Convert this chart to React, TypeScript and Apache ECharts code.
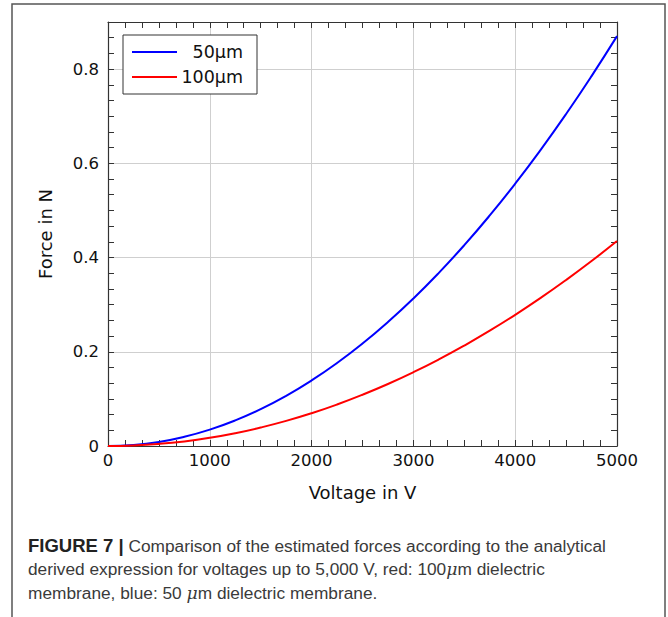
import React, { useEffect, useRef } from "react";
import * as echarts from "echarts";

const voltages = [0, 250, 500, 750, 1000, 1250, 1500, 1750, 2000, 2250, 2500, 2750, 3000, 3250, 3500, 3750, 4000, 4250, 4500, 4750, 5000];
const force50 = [0, 0.0022, 0.0087, 0.0196, 0.0348, 0.0544, 0.0783, 0.1066, 0.1392, 0.1762, 0.2175, 0.2632, 0.3132, 0.3676, 0.4263, 0.4894, 0.5568, 0.6286, 0.7047, 0.7852, 0.87];
const force100 = [0, 0.0011, 0.0044, 0.0098, 0.0174, 0.0272, 0.0392, 0.0533, 0.0696, 0.0881, 0.1088, 0.1316, 0.1566, 0.1838, 0.2132, 0.2447, 0.2784, 0.3143, 0.3524, 0.3926, 0.435];
const seriesNames = ["50μm", "100μm"];
const captionLines = [
  "{b|FIGURE 7 |} Comparison of the estimated forces according to the analytical",
  "derived expression for voltages up to 5,000 V, red: 100{i|μ}m dielectric",
  "membrane, blue: 50 {i|μ}m dielectric membrane.",
];

const FONT = "DejaVu Sans";
const AXIS = "#333";
const CAP = 17.3;

export default function App() {
  const ref = useRef<HTMLDivElement>(null);
  useEffect(() => {
    if (!ref.current) return;
    const chart = echarts.init(ref.current, null, { renderer: "svg" });
    const line = { show: true, onZero: false, lineStyle: { color: AXIS, width: 1.2 } };
    const tickCommon = { show: true, inside: true, length: 6, lineStyle: { color: AXIS } };
    const minorCommon = { show: true, length: 6, lineStyle: { color: AXIS, width: 1 } };
    chart.setOption({
      animation: false,
      backgroundColor: "#fff",
      grid: { left: 108, top: 22, right: 51, bottom: 171, containLabel: false },
      legend: {
        left: 123,
        top: 35,
        orient: "vertical",
        padding: [8, 14, 8, 9],
        itemGap: 7,
        itemWidth: 45,
        itemHeight: 2,
        icon: "rect",
        borderColor: "#333",
        borderWidth: 1,
        backgroundColor: "#fff",
        data: seriesNames,
        formatter: (name: string) => "{t|" + name + "}",
        textStyle: {
          rich: { t: { width: 61, align: "right", fontSize: 17.5, fontFamily: FONT, color: "#111", height: 20 } },
        },
      },
      xAxis: [
        {
          type: "value",
          min: 0,
          max: 5000,
          interval: 1000,
          position: "bottom",
          name: "Voltage in V",
          nameLocation: "middle",
          nameGap: 37,
          nameTextStyle: { fontSize: 18, fontFamily: FONT, color: "#111" },
          axisLine: line,
          axisTick: tickCommon,
          minorTick: { ...minorCommon, splitNumber: 6 },
          axisLabel: { fontSize: 16.5, fontFamily: FONT, color: "#111", margin: 6, formatter: (v: number) => String(v) },
          splitLine: { show: true, lineStyle: { color: "#cfcfcf", width: 1 } },
        },
        {
          type: "value",
          min: 0,
          max: 5000,
          interval: 1000,
          position: "top",
          axisLine: line,
          axisTick: tickCommon,
          minorTick: { ...minorCommon, splitNumber: 6 },
          axisLabel: { show: false },
          splitLine: { show: false },
        },
      ],
      yAxis: [
        {
          type: "value",
          min: 0,
          max: 0.9,
          interval: 0.1,
          position: "left",
          name: "Force in N",
          nameLocation: "middle",
          nameGap: 54,
          nameTextStyle: { fontSize: 18, fontFamily: FONT, color: "#111" },
          axisLine: line,
          axisTick: tickCommon,
          minorTick: { ...minorCommon, splitNumber: 3 },
          axisLabel: {
            fontSize: 16.5,
            fontFamily: FONT,
            color: "#111",
            margin: 9,
            formatter: (v: number) => {
              const k = Math.round(v * 10);
              if (k % 2 !== 0) return "";
              return k === 0 ? "0" : (k / 10).toFixed(1);
            },
          },
          splitLine: { show: false },
        },
        {
          type: "value",
          min: 0,
          max: 0.9,
          interval: 0.1,
          position: "right",
          axisLine: line,
          axisTick: tickCommon,
          minorTick: { ...minorCommon, splitNumber: 3 },
          axisLabel: { show: false },
          splitLine: { show: false },
        },
        {
          type: "value",
          min: 0,
          max: 0.9,
          interval: 0.2,
          position: "left",
          axisLine: { show: false, onZero: false },
          axisTick: { show: false },
          axisLabel: { show: false },
          splitLine: { show: true, lineStyle: { color: "#cfcfcf", width: 1 } },
        },
      ],
      series: [
        {
          name: seriesNames[0],
          type: "line",
          xAxisIndex: 0,
          yAxisIndex: 0,
          data: voltages.map((v, i) => [v, force50[i]]),
          showSymbol: false,
          smooth: true,
          lineStyle: { color: "#0000ff", width: 2 },
          itemStyle: { color: "#0000ff" },
          z: 5,
        },
        {
          name: seriesNames[1],
          type: "line",
          xAxisIndex: 0,
          yAxisIndex: 0,
          data: voltages.map((v, i) => [v, force100[i]]),
          showSymbol: false,
          smooth: true,
          lineStyle: { color: "#ff0000", width: 2 },
          itemStyle: { color: "#ff0000" },
          z: 5,
        },
      ],
      graphic: [
        {
          type: "rect",
          shape: { x: 12, y: 4, width: 653, height: 700 },
          style: { fill: "none", stroke: "#555", lineWidth: 1.5 },
          silent: true,
        },
        ...captionLines.map((text, i) => ({
          type: "text",
          left: 28,
          top: 536 + i * 24,
          style: {
            text,
            fontFamily: "Liberation Sans",
            fontSize: CAP,
            fill: "#3a3a3a",
            rich: {
              b: { fontWeight: "bold", fontFamily: "Liberation Sans", fontSize: 18.5, fill: "#222" },
              i: { fontStyle: "italic", fontFamily: "DejaVu Serif", fontSize: CAP, fill: "#3a3a3a" },
            },
          },
        })),
      ],
    });
    return () => chart.dispose();
  }, []);
  return <div ref={ref} style={{ position: "absolute", left: 0, top: 0, width: 668, height: 617 }} />;
}
